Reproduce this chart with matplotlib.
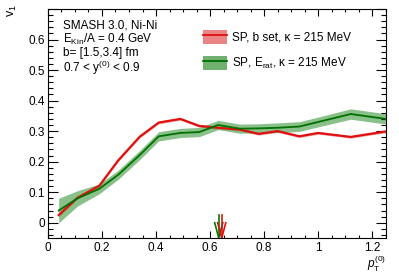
#!/usr/bin/env python
# v1 vs pT^(0) for SMASH Ni-Ni, two potential setups with error bands

import numpy as np
import matplotlib.pyplot as plt
from matplotlib.patches import Patch
from matplotlib.lines import Line2D
from matplotlib.ticker import MultipleLocator, FuncFormatter

plt.rcParams['font.family'] = ['Liberation Sans', 'DejaVu Sans']
plt.rcParams['mathtext.fontset'] = 'custom'
plt.rcParams['mathtext.rm'] = 'Liberation Sans'
plt.rcParams['mathtext.it'] = 'Liberation Sans:italic'
plt.rcParams['mathtext.bf'] = 'Liberation Sans:bold'

# data
pt = [0.04, 0.11, 0.19, 0.26, 0.34, 0.41, 0.49, 0.56, 0.63, 0.71, 0.78, 0.85, 0.93, 1.00, 1.12, 1.25]
v1_bset = [0.025, 0.082, 0.121, 0.204, 0.282, 0.328, 0.340, 0.317, 0.311, 0.305, 0.291, 0.300, 0.283, 0.294, 0.281, 0.299]
err_bset = [0.005, 0.004, 0.004, 0.004, 0.004, 0.004, 0.004, 0.004, 0.004, 0.004, 0.004, 0.004, 0.004, 0.004, 0.004, 0.004]
v1_erat = [0.040, 0.080, 0.111, 0.157, 0.222, 0.283, 0.294, 0.297, 0.320, 0.308, 0.309, 0.311, 0.315, 0.330, 0.356, 0.340]
err_erat = [0.040, 0.025, 0.016, 0.015, 0.015, 0.015, 0.015, 0.015, 0.015, 0.015, 0.015, 0.016, 0.016, 0.016, 0.017, 0.017]
# arrows marking mean pT
arrow_x = [0.632, 0.643]
arrow_col = ['#007a00', '#e01010']

label_bset = 'SP, b set, κ = 215 MeV'
label_erat = r'SP, E$_{\rm rat}$, κ = 215 MeV'
info = ['SMASH 3.0, Ni-Ni', r'E$_{\rm Kin}$/A = 0.4 GeV', 'b= [1.5,3.4] fm', r'0.7 < y$^{(0)}$ < 0.9']

red_line = '#e01010'
red_fill = '#e87878'
green_line = '#007000'
green_fill = '#4c9e4c'

fig = plt.figure(figsize=(3.99, 2.72), dpi=100)
ax = fig.add_axes([0.120, 0.125, 0.847, 0.842])

pt = np.array(pt)
v1_bset = np.array(v1_bset)
v1_erat = np.array(v1_erat)

# red first, green band on top
ax.fill_between(pt, v1_bset - np.array(err_bset), v1_bset + np.array(err_bset),
                color=red_fill, alpha=0.7, lw=0)
ax.plot(pt, v1_bset, color=red_line, lw=1.6)
ax.fill_between(pt, v1_erat - np.array(err_erat), v1_erat + np.array(err_erat),
                color=green_fill, alpha=0.65, lw=0)
ax.plot(pt, v1_erat, color=green_line, lw=1.3)

# arrows
for xa, c in zip(arrow_x, arrow_col):
    ax.plot([xa, xa], [0.024, -0.05], color=c, lw=1.2, clip_on=False)
    ax.plot([xa - 0.015, xa, xa + 0.015], [0.0, -0.05, 0.0], color=c, lw=1.2, clip_on=False)

ax.set_xlim(0, 1.25)
ax.set_ylim(-0.05, 0.7)

ax.xaxis.set_major_locator(MultipleLocator(0.2))
ax.xaxis.set_minor_locator(MultipleLocator(0.05))
ax.yaxis.set_major_locator(MultipleLocator(0.1))
ax.yaxis.set_minor_locator(MultipleLocator(0.02))
ax.xaxis.set_major_formatter(FuncFormatter(lambda v, p: '%g' % round(v, 3)))
ax.yaxis.set_major_formatter(FuncFormatter(lambda v, p: '' if v > 0.65 else '%g' % round(v, 3)))

ax.tick_params(which='both', direction='in', top=True, right=True, labelsize=8.5, width=0.8)
ax.tick_params(axis='x', which='major', length=5, pad=3)
ax.tick_params(axis='x', which='minor', length=2.5)
ax.tick_params(axis='y', which='major', length=7, pad=2)
ax.tick_params(axis='y', which='minor', length=3.5)
for s in ax.spines.values():
    s.set_linewidth(0.8)

# axis titles, ROOT style at the ends
ax.text(1.0, -0.067, r'$p_{\rm T}^{(0)}$', transform=ax.transAxes, ha='right', va='top', fontsize=8.5)
ax.text(-0.104, 1.02, r'v$_1$', transform=ax.transAxes, ha='center', va='top', rotation=90, fontsize=9)

# info text
ys = [0.926, 0.865, 0.806, 0.742]
for t, yy in zip(info, ys):
    ax.text(0.044, yy, t, transform=ax.transAxes, ha='left', va='center', fontsize=8.5)

# legend
h1 = (Patch(facecolor=red_fill, alpha=0.9, lw=0), Line2D([], [], color=red_line, lw=1.3))
h2 = (Patch(facecolor=green_fill, alpha=0.8, lw=0), Line2D([], [], color=green_line, lw=1.3))
ax.legend([h1, h2], [label_bset, label_erat], loc='upper left', bbox_to_anchor=(0.46, 0.91),
          frameon=False, fontsize=8.5, handlelength=2.0, handleheight=1.5,
          handletextpad=0.4, labelspacing=1.0, borderpad=0, borderaxespad=0)

plt.savefig('out.png', dpi=100)
